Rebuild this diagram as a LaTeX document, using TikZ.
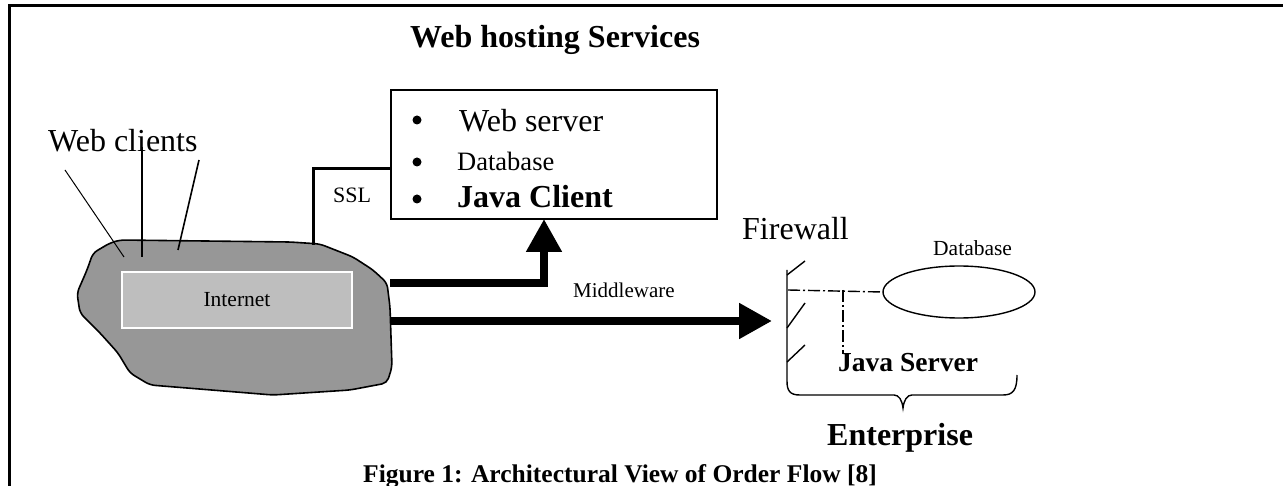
\documentclass[tikz,border=0pt]{standalone}
\usepackage{fontspec}
\setmainfont{Liberation Serif}
\usetikzlibrary{arrows.meta,shapes.geometric}
\definecolor{cloudgray}{HTML}{979797}
\definecolor{inetgray}{HTML}{BEBEBE}
\tikzset{
  lbl/.style={inner sep=0pt, anchor=base west},
  fatarrow/.style={line width=8pt, line join=miter, -{Triangle[length=33pt,width=34pt]}},
  thinline/.style={line width=1.4pt},
  bulletdot/.style={circle, fill=black, inner sep=0pt, minimum size=9pt},
  fs/.style={font=\fontsize{#1}{#1}\selectfont},
  fsb/.style={font=\fontsize{#1}{#1}\selectfont\bfseries},
}
\begin{document}
\begin{tikzpicture}[x=1pt,y=-1pt]
\useasboundingbox (0,0) rectangle (1283,486);
% frame
\draw[line width=3pt] (9,487) -- (9,6) -- (1284,6);

% title
\node[lbl, fsb=32] (title) at (410,48) {Web hosting Services};

% web hosting box
\node[draw, line width=1.6pt, minimum width=326pt, minimum height=129pt, inner sep=0pt] (whs) at (554,154.5) {};
\node[bulletdot] (b1) at (417,120) {};
\node[bulletdot] (b2) at (417,162) {};
\node[bulletdot] (b3) at (417,199) {};
\node[lbl, fs=32] (ws) at (459,132) {Web server};
\node[lbl, fs=26.5] (db1) at (457,171) {Database};
\node[lbl, fsb=32] (jc) at (457,208) {Java Client};

% cloud
\draw[fill=cloudgray, line width=1.6pt, rounded corners=5pt]
  (120,240) -- (290,242) -- (320,244) -- (353,257) -- (373,270) -- (387,283)
  -- (390,307) -- (392,367) -- (387,383) -- (350,390) -- (273,395)
  -- (150,385) -- (130,373) -- (118,353) -- (100,333) -- (80,313)
  -- (77,293) -- (87,270) -- (93,253) -- (110,243) -- cycle;
\node[draw=white, line width=1.5pt, fill=inetgray, minimum width=230pt, minimum height=56pt, inner sep=0pt, fs=21.5] (inet) at (237,300) {Internet};
\coordinate (clssl) at (313,245);
\coordinate (clup) at (390,283);
\coordinate (clmid) at (390,321);
\coordinate (cw1) at (124,257);
\coordinate (cw2) at (142,257);
\coordinate (cw3) at (178,250);

% web clients
\node[lbl, fs=32] (wc) at (48,152) {Web clients};
\draw[line width=1pt] (65,170) -- (cw1);
\draw[line width=1.5pt] (142,147) -- (cw2);
\draw[line width=1.6pt] (199,160) -- (cw3);

% SSL
\coordinate (sslin) at (whs.west |- 0,169);
\draw[line width=3pt] (clssl) |- (sslin);
\node[lbl, fs=22] (ssl) at (333,203) {SSL};

% arrows
\coordinate (upend) at (544,219);
\draw[fatarrow] (clup) -| (upend);
\coordinate (fwin) at (772,321);
\draw[fatarrow] (clmid) -- (fwin);
\node[lbl, fs=21] (mw) at (573,298) {Middleware};

% firewall
\node[lbl, fs=32] (fw) at (742,240) {Firewall};
\draw[thinline]
  (787,270) -- (787,381) .. controls (787,391) and (790,395) .. (800,395)
  -- (894,395) .. controls (899,395) and (902,400) .. (903,408)
  .. controls (904,400) and (907,395) .. (912,395)
  -- (1003,395) .. controls (1013,395) and (1017,390) .. (1017,375);
\draw[thinline] (787,275) -- (805,261);
\draw[thinline] (787,328) -- (805,303);
\draw[thinline] (787,362) -- (805,345);

% enterprise database
\node[draw, ellipse, line width=1.4pt, minimum width=152pt, minimum height=52pt, inner sep=0pt] (dbe) at (959,292) {};
\node[lbl, fs=21.5] (db2) at (933,256) {Database};
\coordinate (fwt) at (788,290);
\coordinate (jsx) at (843,290);
\coordinate (jsend) at (843,354);
\draw[thinline, dash pattern=on 12pt off 3pt on 2pt off 3pt] (fwt) -- (dbe.west);
\draw[thinline, dash pattern=on 12pt off 3pt on 2pt off 3pt] (jsx) -- (jsend);
\node[lbl, fsb=27.5] (js) at (838,372) {Java Server};
\node[lbl, fsb=32] (ent) at (827,445) {Enterprise};

% caption
\node[inner sep=0pt, anchor=base, fsb=25.5] (cap) at (620,482) {Figure 1: Architectural View of Order Flow [8]};
\end{tikzpicture}
\end{document}
